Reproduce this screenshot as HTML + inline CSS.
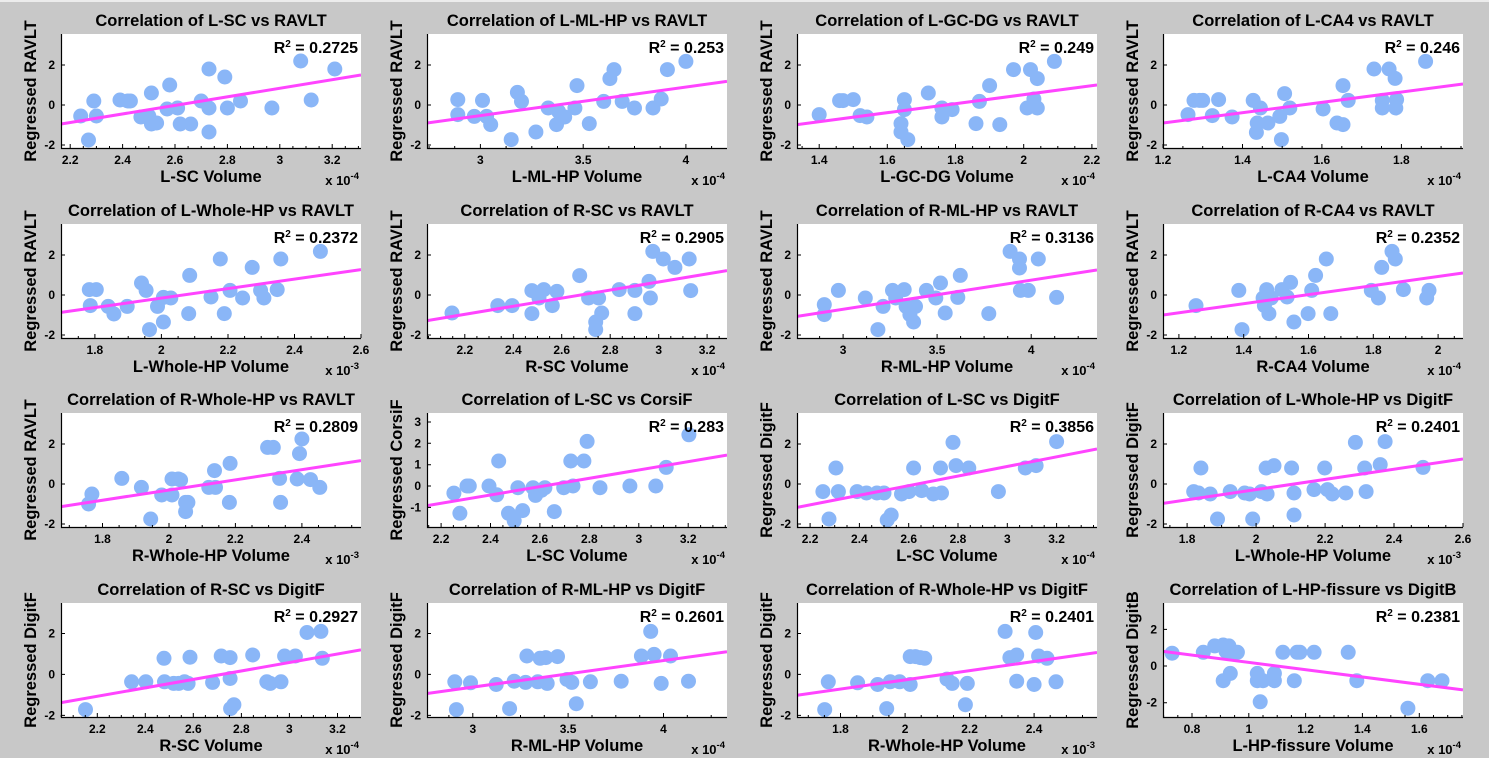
<!DOCTYPE html>
<html><head><meta charset="utf-8"><style>
html,body{margin:0;padding:0;background:#c8c8c8;}
svg{display:block;font-family:"Liberation Sans",Arial,sans-serif;font-weight:bold;}
</style></head><body>
<svg id="fig" width="1489" height="758" viewBox="0 0 1489 758" xmlns="http://www.w3.org/2000/svg">
<rect x="0" y="0" width="1489" height="758" fill="#c8c8c8"/>
<rect x="0" y="0" width="1489" height="2" fill="#ececec"/>
</svg>
<script>
const titles=["Correlation of L-SC vs RAVLT","Correlation of L-ML-HP vs RAVLT","Correlation of L-GC-DG vs RAVLT","Correlation of L-CA4 vs RAVLT",
"Correlation of L-Whole-HP vs RAVLT","Correlation of R-SC vs RAVLT","Correlation of R-ML-HP vs RAVLT","Correlation of R-CA4 vs RAVLT",
"Correlation of R-Whole-HP vs RAVLT","Correlation of L-SC vs CorsiF","Correlation of L-SC vs DigitF","Correlation of L-Whole-HP vs DigitF",
"Correlation of R-SC vs DigitF","Correlation of R-ML-HP vs DigitF","Correlation of R-Whole-HP vs DigitF","Correlation of L-HP-fissure vs DigitB"];
const xLabels=["L-SC Volume","L-ML-HP Volume","L-GC-DG Volume","L-CA4 Volume","L-Whole-HP Volume","R-SC Volume","R-ML-HP Volume","R-CA4 Volume",
"R-Whole-HP Volume","L-SC Volume","L-SC Volume","L-Whole-HP Volume","R-SC Volume","R-ML-HP Volume","R-Whole-HP Volume","L-HP-fissure Volume"];
const yLabels=["Regressed RAVLT","Regressed RAVLT","Regressed RAVLT","Regressed RAVLT","Regressed RAVLT","Regressed RAVLT","Regressed RAVLT","Regressed RAVLT",
"Regressed RAVLT","Regressed CorsiF","Regressed DigitF","Regressed DigitF","Regressed DigitF","Regressed DigitF","Regressed DigitF","Regressed DigitB"];
const r2Labels=["0.2725","0.253","0.249","0.246","0.2372","0.2905","0.3136","0.2352","0.2809","0.283","0.3856","0.2401","0.2927","0.2601","0.2401","0.2381"];
const exponents=["-4","-4","-4","-4","-3","-4","-4","-4","-3","-4","-4","-3","-4","-4","-3","-4"];
const xRanges=[[2.165,3.31],[2.74,4.2],[1.335,2.215],[1.2,1.955],[1.698,2.6],[2.044,3.282],[2.755,4.35],[1.151,2.077],
[1.675,2.578],[2.143,3.357],[2.147,3.364],[1.73,2.6],[2.049,3.298],[2.76,4.333],[1.665,2.595],[0.698,1.754]];
const yRanges=[[-2.15,3.55],[-2.15,3.55],[-2.15,3.55],[-2.15,3.55],[-2.15,3.55],[-2.15,3.55],[-2.15,3.55],[-2.15,3.55],
[-2.15,3.55],[-1.92,3.42],[-2.15,3.55],[-2.15,3.55],[-2.08,3.49],[-2.08,3.49],[-2.08,3.49],[-2.78,3.44]];
const xTicks=[[2.2,2.4,2.6,2.8,3,3.2],[3,3.5,4],[1.4,1.6,1.8,2,2.2],[1.2,1.4,1.6,1.8],[1.8,2,2.2,2.4,2.6],[2.2,2.4,2.6,2.8,3,3.2],[3,3.5,4],[1.2,1.4,1.6,1.8,2],
[1.8,2,2.2,2.4],[2.2,2.4,2.6,2.8,3,3.2],[2.2,2.4,2.6,2.8,3,3.2],[1.8,2,2.2,2.4,2.6],[2.2,2.4,2.6,2.8,3,3.2],[3,3.5,4],[1.8,2,2.2,2.4],[0.8,1,1.2,1.4,1.6]];
const yTicks=[[-2,0,2],[-2,0,2],[-2,0,2],[-2,0,2],[-2,0,2],[-2,0,2],[-2,0,2],[-2,0,2],[-2,0,2],[-1,0,1,2,3],[-2,0,2],[-2,0,2],[-2,0,2],[-2,0,2],[-2,0,2],[-2,0,2]];
const lineStartY=[-0.95,-0.9,-0.98,-0.9,-0.87,-1.28,-1.07,-1.0,-1.13,-0.92,-1.17,-0.97,-1.38,-0.93,-1.02,0.8];
const lineEndY=[1.5,1.18,1.0,1.05,1.27,1.22,1.25,1.1,1.17,1.45,1.75,1.25,1.2,1.11,1.07,-1.3];
const pointsX=[
[2.24,2.27,2.29,2.30,2.39,2.42,2.43,2.47,2.50,2.51,2.51,2.53,2.57,2.58,2.61,2.62,2.66,2.70,2.73,2.73,2.73,2.79,2.80,2.85,2.97,3.08,3.12,3.21],
[2.89,2.89,2.97,3.01,3.03,3.05,3.15,3.18,3.20,3.27,3.33,3.37,3.38,3.41,3.46,3.47,3.53,3.60,3.63,3.65,3.69,3.75,3.84,3.88,3.91,4.00],
[1.40,1.46,1.47,1.50,1.52,1.54,1.64,1.64,1.65,1.65,1.66,1.72,1.76,1.76,1.79,1.86,1.87,1.90,1.93,1.97,2.01,2.02,2.03,2.04,2.04,2.09],
[1.263,1.278,1.292,1.30,1.324,1.34,1.374,1.427,1.437,1.435,1.445,1.464,1.494,1.498,1.506,1.519,1.603,1.638,1.653,1.653,1.666,1.731,1.752,1.752,1.769,1.784,1.788,1.786,1.861],
[1.783,1.786,1.804,1.84,1.857,1.897,1.94,1.954,1.964,1.988,2.006,2.006,2.028,2.085,2.082,2.149,2.177,2.189,2.206,2.244,2.273,2.298,2.308,2.348,2.359,2.478],
[2.147,2.336,2.395,2.477,2.477,2.506,2.526,2.561,2.58,2.674,2.711,2.74,2.74,2.752,2.765,2.837,2.902,2.902,2.96,2.966,2.976,3.019,3.067,3.126,3.132],
[2.9,2.9,2.975,3.118,3.185,3.213,3.263,3.28,3.325,3.335,3.355,3.375,3.385,3.443,3.493,3.518,3.543,3.61,3.623,3.775,3.888,3.938,3.938,3.943,3.985,4.038,4.135],
[1.253,1.385,1.395,1.46,1.464,1.471,1.478,1.485,1.518,1.534,1.545,1.555,1.61,1.599,1.622,1.655,1.669,1.794,1.816,1.826,1.858,1.868,1.893,1.965,1.972],
[1.758,1.768,1.858,1.917,1.978,2.009,2.009,2.028,2.035,2.05,2.05,2.057,1.945,2.12,2.137,2.14,2.184,2.182,2.297,2.314,2.333,2.336,2.386,2.393,2.4,2.426,2.454],
[2.252,2.276,2.305,2.314,2.394,2.425,2.433,2.473,2.496,2.511,2.53,2.572,2.582,2.606,2.62,2.658,2.696,2.725,2.734,2.778,2.791,2.843,2.964,3.069,3.111,3.203],
[2.252,2.277,2.305,2.315,2.391,2.429,2.471,2.5,2.513,2.529,2.571,2.601,2.62,2.653,2.7,2.729,2.733,2.78,2.792,2.844,2.964,3.073,3.117,3.2],
[1.819,1.84,1.833,1.867,1.888,1.925,1.967,1.981,1.99,2.015,2.029,2.032,2.052,2.103,2.11,2.11,2.168,2.199,2.207,2.221,2.26,2.288,2.315,2.319,2.36,2.374,2.484],
[2.151,2.343,2.402,2.478,2.48,2.518,2.539,2.563,2.578,2.586,2.68,2.716,2.753,2.753,2.755,2.769,2.847,2.906,2.92,2.965,2.98,3.025,3.073,3.131,3.137],
[2.906,2.914,2.988,3.123,3.193,3.217,3.277,3.284,3.341,3.353,3.383,3.39,3.444,3.494,3.519,3.543,3.617,3.778,3.884,3.933,3.951,3.988,4.037,4.131],
[1.751,1.762,1.853,1.915,1.943,1.954,1.983,2.016,2.016,2.032,2.047,2.061,2.13,2.146,2.193,2.187,2.31,2.325,2.346,2.346,2.4,2.405,2.414,2.44,2.468],
[0.73,0.84,0.88,0.91,0.92,0.93,0.95,0.96,0.91,0.935,1.03,1.03,1.04,1.05,1.09,1.09,1.12,1.16,1.17,1.18,1.23,1.35,1.38,1.56,1.63,1.68]];
const pointsY=[
[-0.55,-1.75,0.2,-0.55,0.25,0.2,0.2,-0.6,-0.55,-0.95,0.6,-0.9,-0.2,1.0,-0.15,-0.95,-0.95,0.2,1.8,-0.15,-1.35,1.4,-0.15,0.2,-0.15,2.2,0.25,1.8],
[0.27,-0.48,-0.57,0.23,-0.57,-0.98,-1.73,0.63,0.18,-1.35,-0.15,-0.98,-0.32,-0.6,-0.15,0.97,-0.93,0.18,1.32,1.77,0.18,-0.15,-0.15,0.3,1.77,2.18],
[-0.48,0.22,0.22,0.27,-0.53,-0.6,-0.93,-1.35,0.27,-0.23,-1.73,0.6,-0.6,-0.15,-0.23,-0.93,0.18,0.97,-0.98,1.77,-0.15,1.77,0.3,1.32,-0.15,2.18],
[-0.48,0.23,0.23,0.23,-0.53,0.27,-0.6,0.23,-0.9,-1.37,-0.15,-0.9,-0.57,-1.73,0.57,-0.15,-0.2,-0.9,0.97,-0.98,0.23,1.8,0.23,-0.15,1.8,1.33,0.27,-0.15,2.18],
[0.27,-0.53,0.27,-0.57,-0.95,-0.57,0.6,0.23,-1.73,-0.57,-0.12,-1.35,-0.15,0.98,-0.93,-0.1,1.8,-0.93,0.23,-0.15,1.38,0.23,-0.15,0.27,1.8,2.18],
[-0.9,-0.53,-0.53,-0.93,0.22,-0.15,0.27,-0.53,0.18,0.97,-0.15,-1.35,-1.73,-0.15,-0.9,0.27,0.23,-0.93,0.68,-0.15,2.18,1.8,1.38,1.8,0.22],
[-0.48,-0.98,0.23,-0.15,-1.73,-0.57,0.23,-0.15,0.27,-0.57,-0.98,-1.35,-0.57,0.23,-0.15,0.6,-0.9,-0.12,0.98,-0.93,2.18,1.8,1.35,0.23,0.23,1.8,-0.12],
[-0.53,0.23,-1.73,-0.15,-0.53,0.27,-0.93,-0.15,0.27,-0.1,0.63,-1.35,0.23,-0.93,0.98,1.8,-0.93,0.23,-0.15,1.38,2.18,1.8,0.27,-0.15,0.23],
[-1.0,-0.5,0.28,-0.17,-0.55,0.25,-0.55,0.25,0.2,-0.92,-1.38,-0.92,-1.75,-0.17,0.67,-0.17,1.03,-0.92,1.83,1.83,0.28,-0.92,0.25,1.52,2.25,0.22,-0.17],
[-0.33,-1.28,0,0,0,-0.41,1.17,-1.28,-1.63,-0.08,-1.15,-0.08,-0.44,-0.2,-0.08,-1.2,-0.08,1.17,0,1.17,2.09,-0.08,0,0,0.87,2.4],
[-0.38,-1.75,0.8,-0.38,-0.38,-0.45,-0.45,-0.45,-1.8,-1.55,-0.5,-0.38,0.8,-0.33,-0.5,0.8,-0.45,2.08,0.92,0.8,-0.38,0.8,0.92,2.12],
[-0.38,0.8,-0.45,-0.5,-1.75,-0.38,-0.45,-0.5,-1.75,-0.38,0.8,-0.5,0.92,0.8,-0.45,-1.55,-0.28,0.8,-0.28,-0.5,-0.45,2.08,0.8,-0.38,0.97,2.12,0.83],
[-1.72,-0.36,-0.36,0.79,-0.36,-0.44,-0.44,-0.36,-0.44,0.84,-0.39,0.9,0.82,-0.2,-1.67,-1.48,0.95,-0.36,-0.44,-0.36,0.9,0.9,2.05,2.1,0.79],
[-0.36,-1.72,-0.41,-0.49,-1.67,-0.33,-0.39,0.9,-0.36,0.79,0.82,-0.44,0.87,-0.25,-0.39,-1.43,-0.36,-0.33,0.9,2.1,0.98,-0.44,0.9,-0.33],
[-1.72,-0.36,-0.41,-0.49,-1.67,-0.36,-0.36,0.87,-0.49,0.87,0.82,0.79,-0.23,-0.44,-0.44,-1.48,2.1,0.82,0.95,-0.33,-0.49,2.05,0.9,0.79,-0.36],
[0.7,0.75,1.1,1.15,0.8,1.1,0.7,0.75,-0.8,-0.4,-0.4,-0.8,-1.95,-0.8,-0.4,-0.8,0.75,-0.8,0.75,0.75,0.75,0.75,-0.8,-2.3,-0.8,-0.8]];

const NS="http://www.w3.org/2000/svg";
const svg=document.getElementById('fig');
const colLeft=[61,427,797,1163], rowTop=[34,224,413,603], PW=300, PH=114;
function mk(tag,attrs,parent){const e=document.createElementNS(NS,tag);for(const k in attrs)e.setAttribute(k,attrs[k]);parent.appendChild(e);return e;}
function fmt(v){return String(Math.round(v*100)/100);}
for(let i=0;i<16;i++){
  const L=colLeft[i%4], T=rowTop[Math.floor(i/4)], R=L+PW, B=T+PH;
  const xr=xRanges[i], yr=yRanges[i];
  const sx=v=>L+(v-xr[0])/(xr[1]-xr[0])*PW;
  const sy=v=>B-(v-yr[0])/(yr[1]-yr[0])*PH;
  const g=mk('g',{},svg);
  
  
  const bg=mk('rect',{x:L,y:T,width:PW,height:PH,fill:'#ffffff'},g);
  
  
  const cp=mk('clipPath',{id:'cp'+i},g);
  mk('rect',{x:L,y:T,width:PW,height:PH},cp);
  const marks=mk('g',{'clip-path':'url(#cp'+i+')'},g);
  
  
  const xs=pointsX[i], ys=pointsY[i];
  for(let k=0;k<xs.length;k++){
    const c=mk('circle',{cx:sx(xs[k]).toFixed(1),cy:sy(ys[k]).toFixed(1),r:7.5,fill:'#8ab6f7'},marks);
    
    
  }
  const fl=mk('line',{x1:sx(xr[0]),y1:sy(lineStartY[i]).toFixed(1),x2:sx(xr[1]),y2:sy(lineEndY[i]).toFixed(1),stroke:'#ff44ff','stroke-width':3},marks);
  
  
  const ax=mk('path',{d:`M${L+0.5},${T} V${B+0.5} H${R}`,stroke:'#000',fill:'none','stroke-width':1.2},g);
  
  
  const xt=xTicks[i];
  const step=xt.length>1?xt[1]-xt[0]:0.2;
  const minor=step/4;
  let d='';
  for(let v=xt[0]-Math.floor((xt[0]-xr[0])/minor)*minor; v<=xr[1]+1e-9; v+=minor){ if(v>=xr[0]-1e-9){const px=sx(v).toFixed(1); d+=`M${px},${B} v-2 `;} }
  xt.forEach(v=>{const px=sx(v).toFixed(1); d+=`M${px},${B} v-4 `;});
  yTicks[i].forEach(v=>{const py=sy(v).toFixed(1); d+=`M${L},${py} h4 `;});
  const tk=mk('path',{d:d,stroke:'#000','stroke-width':1},g);
  
  
  xt.forEach(v=>{
    const t=mk('text',{x:sx(v).toFixed(1),y:B+16,'text-anchor':'middle','font-size':'12px'},g);
    t.textContent=fmt(v);
    
    
  });
  yTicks[i].forEach(v=>{
    const t=mk('text',{x:L-6,y:(sy(v)+4).toFixed(1),'text-anchor':'end','font-size':'12px'},g);
    t.textContent=fmt(v);
    
    
  });
  const ti=mk('text',{x:L+PW/2,y:T-8,'text-anchor':'middle','font-size':'16.5px'},g);
  ti.textContent=titles[i];
  
  
  const xl=mk('text',{x:L+PW/2,y:B+34,'text-anchor':'middle','font-size':'16.5px'},g);
  xl.textContent=xLabels[i];
  
  
  const yl=mk('text',{x:0,y:0,'text-anchor':'middle','font-size':'16.5px',transform:`translate(${L-25},${T+PH/2}) rotate(-90)`},g);
  yl.textContent=yLabels[i];
  
  
  const ex=mk('text',{x:R-2,y:B+37,'text-anchor':'end','font-size':'13px'},g);
  
  
  const t1=mk('tspan',{},ex); t1.textContent='x 10';
  const t2=mk('tspan',{dy:-6,'font-size':'9.5px'},ex); t2.textContent=exponents[i];
  const r2=mk('text',{x:R-3,y:T+19,'text-anchor':'end','font-size':'16px'},g);
  
  
  const a=mk('tspan',{},r2); a.textContent='R';
  const b=mk('tspan',{dy:-6,'font-size':'10px'},r2); b.textContent='2';
  const c2=mk('tspan',{dy:6},r2); c2.textContent=' = '+r2Labels[i];
}
</script>
</body></html>
